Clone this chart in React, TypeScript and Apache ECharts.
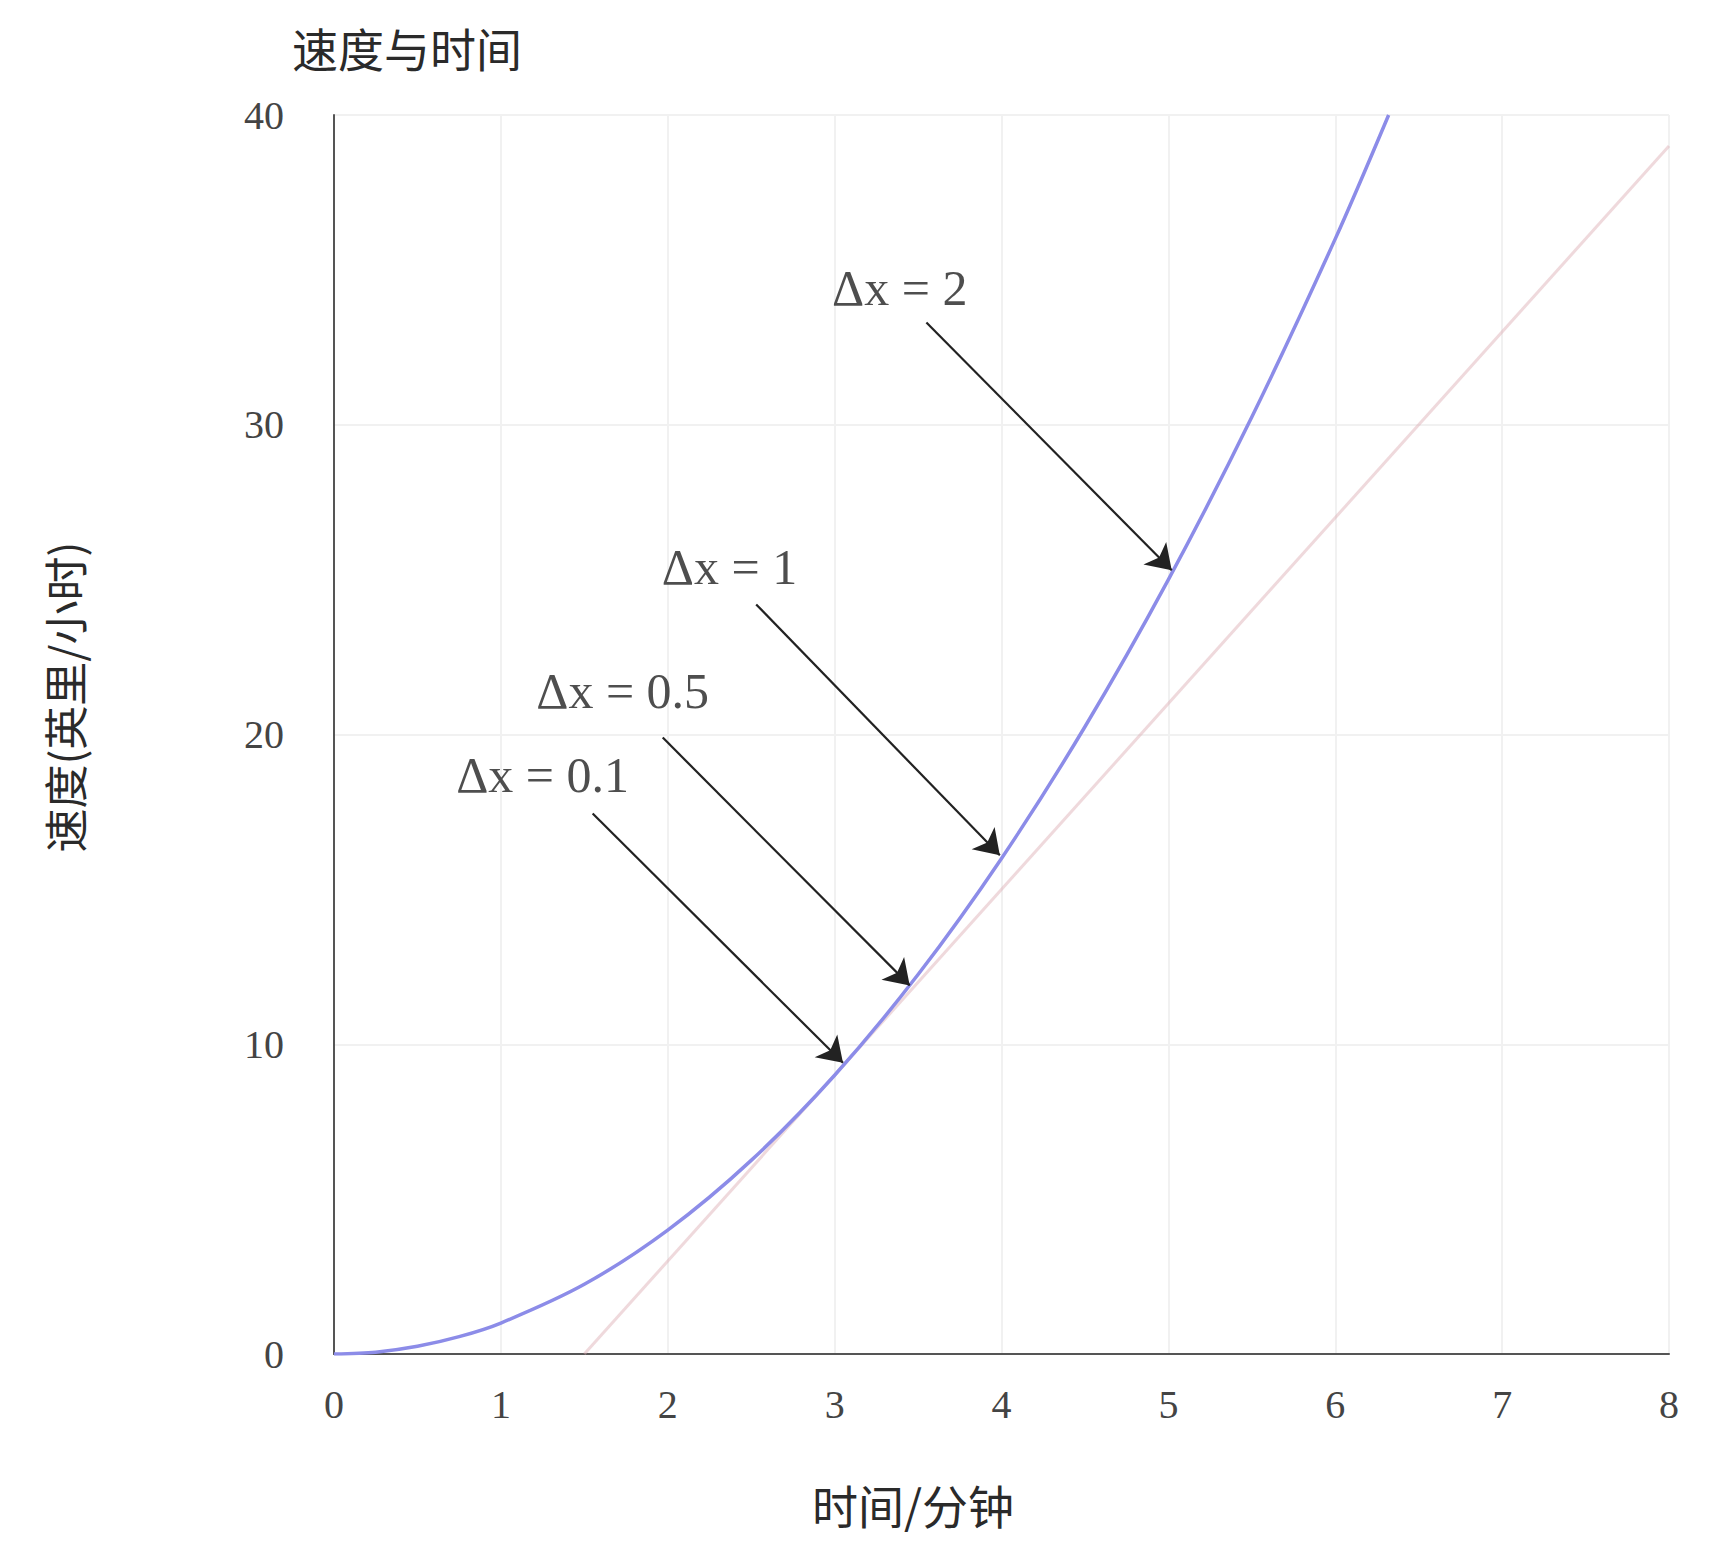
import React, { useEffect, useRef } from "react";
import * as echarts from "echarts";

// ---- data ----
const curveX = [0, 0.25, 0.5, 0.75, 1, 1.5, 2, 2.5, 3, 3.5, 4, 4.5, 5, 5.5, 6, 6.32];
const curveY = [0, 0.06, 0.25, 0.56, 1, 2.25, 4, 6.25, 9, 12.25, 16, 20.25, 25, 30.25, 36, 40];

const tangentX = [1.5, 8];
const tangentY = [0, 39];

const deltaLabels = ["Δx = 2", "Δx = 1", "Δx = 0.5", "Δx = 0.1"];
const labelX = [3.39, 2.37, 1.73, 1.25];
const labelY = [34.4, 25.4, 21.4, 18.7];
const arrowTailX = [3.55, 2.53, 1.97, 1.55];
const arrowTailY = [33.3, 24.2, 19.9, 17.45];
const arrowTipX = [5.02, 3.99, 3.45, 3.05];
const arrowTipY = [25.3, 16.1, 11.9, 9.4];

const titleText = "速度与时间";
const xName = "时间/分钟";
const yName = "速度(英里/小时)";

const SERIF = "'Liberation Serif', 'DejaVu Serif', serif";
const CJK = "'Noto Sans CJK SC', 'Noto Sans', sans-serif";

export default function App() {
  const ref = useRef<HTMLDivElement>(null);

  useEffect(() => {
    if (!ref.current) return;
    const chart = echarts.init(ref.current, undefined, { renderer: "svg" });

    const curveData = curveX.map((x, i) => [x, curveY[i]]);
    const tangentData = tangentX.map((x, i) => [x, tangentY[i]]);
    const arrowData = arrowTailX.map((x, i) => ({
      coords: [
        [x, arrowTailY[i]],
        [arrowTipX[i], arrowTipY[i]],
      ],
    }));
    const labelData = deltaLabels.map((t, i) => ({ value: [labelX[i], labelY[i]], name: t }));

    chart.setOption({
      animation: false,
      backgroundColor: "#ffffff",
      title: {
        text: titleText,
        left: 292,
        top: 24,
        padding: 0,
        textStyle: { fontFamily: CJK, fontSize: 46, fontWeight: "normal", color: "#2a2a2a" },
      },
      grid: { left: 334, top: 115, right: 50, bottom: 196, containLabel: false },
      xAxis: {
        type: "value",
        min: 0,
        max: 8,
        interval: 1,
        axisLine: { show: true, onZero: false, lineStyle: { color: "#555", width: 2 } },
        axisTick: { show: false },
        axisLabel: { fontFamily: SERIF, fontSize: 40, color: "#444", margin: 30 },
        splitLine: { show: true, lineStyle: { color: "#f1f1f1", width: 2 } },
      },
      yAxis: {
        type: "value",
        min: 0,
        max: 40,
        interval: 10,
        axisLine: { show: true, onZero: false, lineStyle: { color: "#555", width: 2 } },
        axisTick: { show: false },
        axisLabel: { fontFamily: SERIF, fontSize: 40, color: "#444", margin: 50 },
        splitLine: { show: true, lineStyle: { color: "#f1f1f1", width: 2 } },
      },
      graphic: [
        {
          type: "text",
          x: 913,
          y: 1504,
          style: {
            text: xName,
            fontFamily: CJK,
            fontSize: 46,
            fill: "#2a2a2a",
            align: "center",
            verticalAlign: "middle",
          },
        },
        {
          type: "text",
          x: 64,
          y: 697,
          rotation: Math.PI / 2,
          style: {
            text: yName,
            fontFamily: CJK,
            fontSize: 44,
            fill: "#2a2a2a",
            align: "center",
            verticalAlign: "middle",
          },
        },
      ],
      series: [
        {
          type: "line",
          data: tangentData,
          symbol: "none",
          lineStyle: { color: "rgba(220,170,178,0.45)", width: 3 },
          z: 1,
        },
        {
          type: "line",
          data: curveData,
          symbol: "none",
          smooth: 0.3,
          lineStyle: { color: "#8c8ce8", width: 3.5 },
          z: 2,
        },
        {
          type: "lines",
          coordinateSystem: "cartesian2d",
          data: arrowData,
          symbol: ["none", "arrow"],
          symbolSize: [0, 24],
          lineStyle: { color: "#222", width: 2.2, opacity: 1 },
          z: 3,
        },
        {
          type: "scatter",
          data: labelData,
          symbolSize: 0,
          label: {
            show: true,
            position: "inside",
            formatter: (p: any) => p.name,
            fontFamily: SERIF,
            fontSize: 50,
            color: "#222",
          },
          z: 4,
        },
      ],
    });

    return () => chart.dispose();
  }, []);

  return (
    <div
      ref={ref}
      style={{ position: "absolute", left: 0, top: 0, width: 1719, height: 1550 }}
    />
  );
}
